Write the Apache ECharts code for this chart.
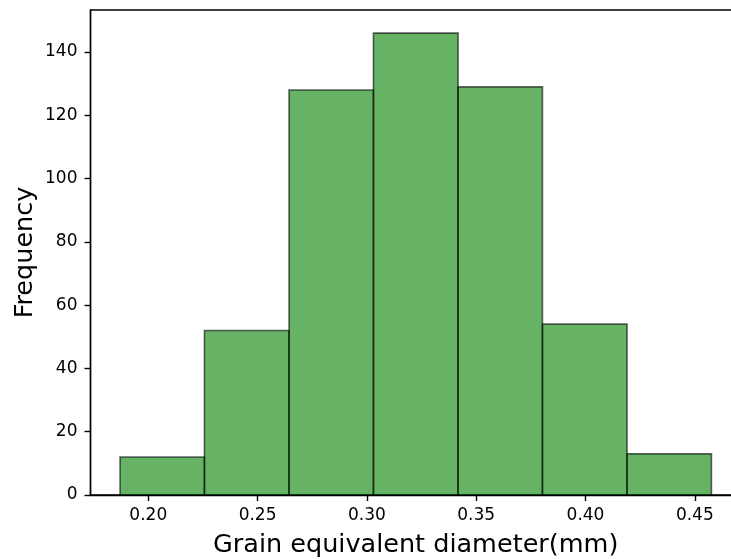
<!DOCTYPE html>
<html>
<head>
<meta charset="utf-8">
<script src="https://cdn.jsdelivr.net/npm/echarts@6/dist/echarts.min.js"></script>
<style>html,body{margin:0;padding:0;background:#fff;overflow:hidden;}#c{width:731px;height:559px;}</style>
</head>
<body>
<div id="c"></div>
<script>
// Histogram bin edges (mm) and counts
const binEdges = [0.1871, 0.2257, 0.2644, 0.3030, 0.3417, 0.3803, 0.4190, 0.4576];
const counts = [12, 52, 128, 146, 129, 54, 13];
const xTicks = [0.20, 0.25, 0.30, 0.35, 0.40, 0.45];
const yTicks = [0, 20, 40, 60, 80, 100, 120, 140];

const bars = counts.map((c, i) => [binEdges[i], binEdges[i + 1], c]);
const span = binEdges[binEdges.length - 1] - binEdges[0];
const xMin = binEdges[0] - span * 0.05;
const xMax = binEdges[binEdges.length - 1] + span * 0.05;
const yMax = Math.max(...counts) * 1.05;

const font = 'DejaVu Sans';
const chart = echarts.init(document.getElementById('c'), null, {renderer: 'canvas'});
chart.setOption({
  animation: false,
  grid: {left: 90.5, top: 10, width: 650.5, height: 485, containLabel: false, outerBoundsMode: 'none',
         show: true, borderColor: '#000', borderWidth: 1.4, backgroundColor: 'transparent'},
  xAxis: {
    type: 'value', min: xMin, max: xMax,
    name: 'Grain equivalent diameter(mm)', nameLocation: 'middle', nameGap: 37, nameMoveOverlap: false,
    nameTextStyle: {fontFamily: font, fontSize: 25.5, color: '#000'},
    axisLine: {show: true, onZero: false, lineStyle: {color: '#000', width: 1.4}},
    axisTick: {show: true, inside: false, length: 6, customValues: xTicks, lineStyle: {color: '#000', width: 1.4}},
    axisLabel: {customValues: xTicks, margin: 12, fontFamily: font, fontSize: 17, color: '#000', formatter: v => v.toFixed(2)},
    splitLine: {show: false}
  },
  yAxis: {
    type: 'value', min: 0, max: yMax,
    name: 'Frequency', nameLocation: 'middle', nameGap: 52, nameMoveOverlap: false,
    nameTextStyle: {fontFamily: font, fontSize: 25.5, color: '#000'},
    axisLine: {show: true, lineStyle: {color: '#000', width: 1.4}},
    axisTick: {show: true, inside: false, length: 6, customValues: yTicks, lineStyle: {color: '#000', width: 1.4}},
    axisLabel: {customValues: yTicks, margin: 13, fontFamily: font, fontSize: 17, color: '#000'},
    splitLine: {show: false}
  },
  series: [{
    type: 'custom',
    data: bars,
    encode: {x: [0, 1], y: 2},
    renderItem: function (params, api) {
      const p0 = api.coord([api.value(0), 0]);
      const p1 = api.coord([api.value(1), api.value(2)]);
      return {
        type: 'rect',
        shape: {x: p0[0], y: p1[1], width: p1[0] - p0[0], height: p0[1] - p1[1]},
        style: {fill: 'rgba(0,128,0,0.6)', stroke: 'rgba(0,0,0,0.6)', lineWidth: 1.6}
      };
    }
  }]
});
</script>
</body>
</html>
